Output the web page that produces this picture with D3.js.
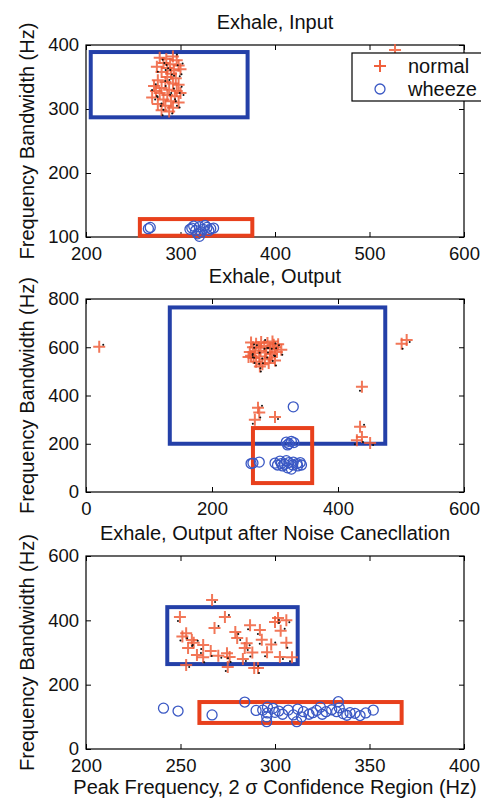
<!DOCTYPE html>
<html>
<head>
<meta charset="utf-8">
<script src="https://cdn.jsdelivr.net/npm/d3@7"></script>
<style>
  body { margin: 0; background: #fff; }
  svg { display: block; font-family: "Liberation Sans", Arial, sans-serif; }
</style>
</head>
<body>
<svg width="481" height="803"></svg>
<script>
// ---- data ----
var titles = ["Exhale, Input", "Exhale, Output", "Exhale, Output after Noise Canecllation"];
var xDomains = [[200, 600], [0, 600], [200, 400]];
var yDomains = [[100, 400], [0, 800], [0, 600]];
var xTicks = [[200, 300, 400, 500, 600], [0, 200, 400, 600], [200, 250, 300, 350, 400]];
var yTicks = [[100, 200, 300, 400], [0, 200, 400, 600, 800], [0, 200, 400, 600]];

// 2 sigma confidence boxes [x0, x1, y0, y1]
var normalBoxes = [[205, 371, 287, 389], [133, 475, 200, 765], [243, 312, 264, 441]];
var wheezeBoxes = [[257, 376, 102, 128], [265, 359, 37, 265], [260, 367, 81, 146]];

var normal1 = [[278,380],[285,378],[292,382],[296,376],[282,372],[289,370],[298,368],[275,366],[286,364],[293,360],
  [280,358],[300,362],[290,355],[276,345],[284,342],[292,340],[298,338],[272,336],[280,333],[288,330],
  [296,328],[278,325],[286,322],[294,320],[270,318],[282,315],[290,312],[298,310],[276,308],[284,305],
  [292,302],[280,298],[288,296],[286,350],[295,348],[274,328],[300,325],[527,392]];
var wheeze1 = [[268,115],[266,113],[312,114],[316,110],[320,116],[324,112],[328,115],[332,113],[318,105],
  [326,118],[322,108],[335,114],[314,117],[330,110],[310,112],[320,101]];

var normal2 = [[262,620],[270,615],[278,622],[288,618],[296,624],[305,612],[265,600],[274,598],[283,605],[292,595],
  [300,600],[310,590],[260,580],[268,575],[277,585],[286,578],[295,572],[303,580],[258,560],[266,555],
  [275,562],[284,550],[292,558],[300,545],[270,540],[280,530],[290,535],[276,520],[262,565],[298,610],
  [21,602],[501,615],[509,630],[438,436],[273,349],[275,330],[300,311],[268,299],[435,270],[438,228],
  [451,203],[430,215]];
var wheeze2 = [[329,353],[318,207],[322,200],[326,210],[330,205],[320,195],[265,120],[275,124],[262,118],[300,120],
  [308,128],[315,115],[322,122],[329,124],[335,118],[340,122],[312,108],[320,100],[328,112],[336,108],
  [304,112],[318,130],[326,95],[342,112],[310,118]];

var normal3 = [[266.7,463],[249.7,410],[273.5,410],[301.6,407],[306,400],[286.8,385],[268,376],[253,360],[279,364],
  [292,370],[303,368],[256,339],[285,329],[262,323],[254,314],[274.6,298],[284,314],[295.8,301],[258.7,292],
  [276,286],[302.6,286],[275,255],[289,252],[291,252],[253,261],[251,350],[257,330],[266,305],[280,345],
  [293,340],[298,325],[306,330],[270,290],[288,300],[300,395],[262,285],[283,280],[309,285]];
var wheeze3 = [[241,127],[248.7,118],[266.7,106],[284,146],[293.5,121],[299,126.5],[307,121],[315,116],[320,113],
  [327,116],[333.5,147],[332.6,116],[339.7,113],[342.3,111],[352,121],[309.7,106],[295.6,100],[311.5,85],
  [295.6,85],[290,120],[296,112],[302,118],[304,108],[312,124],[318,108],[322,120],[325,108],[330,122],
  [336,110],[345,104],[348,112],[296,130],[300,114],[314,100],[324,130],[334,128],[338,105]];

var normals = [normal1, normal2, normal3];
var wheezes = [wheeze1, wheeze2, wheeze3];

var yLabel = "Frequency Bandwidth (Hz)";
var xLabel = "Peak Frequency, 2 \u03c3 Confidence Region (Hz)";
var legendLabels = ["normal", "wheeze"];

// ---- layout ----
var svg = d3.select("svg");
var left = 86, right = 464;
var panelTops = [45, 299, 556], panelBottoms = [237, 492, 749];

var blueBox = "#2440a8", redBox = "#e8401c", plusColor = "#f0603c", circColor = "#3a58c4";
var plusPath = "M-6,0H6M0,-6V6";
var dotOffsets = [[3, 2], [-2, 4], [4, -2], [1, 5]];

function drawPanel(i) {
  var x = d3.scaleLinear().domain(xDomains[i]).range([left, right]);
  var y = d3.scaleLinear().domain(yDomains[i]).range([panelBottoms[i], panelTops[i]]);
  var g = svg.append("g");

  // frame
  g.append("rect")
    .attr("x", left).attr("y", panelTops[i])
    .attr("width", right - left).attr("height", panelBottoms[i] - panelTops[i])
    .attr("fill", "none").attr("stroke", "#000").attr("stroke-width", 1.2);

  // axes, ticks inside like matlab
  var ax = g.append("g").attr("transform", "translate(0," + panelBottoms[i] + ")")
    .call(d3.axisBottom(x).tickValues(xTicks[i]).tickSize(-5).tickPadding(10).tickFormat(d3.format("d")));
  var ay = g.append("g").attr("transform", "translate(" + left + ",0)")
    .call(d3.axisLeft(y).tickValues(yTicks[i]).tickSize(-5).tickPadding(7).tickFormat(d3.format("d")));
  g.append("g").attr("transform", "translate(0," + panelTops[i] + ")")
    .call(d3.axisTop(x).tickValues(xTicks[i]).tickSize(-5).tickFormat(""));
  g.append("g").attr("transform", "translate(" + right + ",0)")
    .call(d3.axisRight(y).tickValues(yTicks[i]).tickSize(-5).tickFormat(""));
  g.selectAll(".domain").remove();
  g.selectAll(".tick line").attr("stroke", "#000");
  g.selectAll(".tick text").attr("font-size", 18.5).attr("fill", "#111").attr("font-family", null);

  // confidence boxes
  var nb = normalBoxes[i], wb = wheezeBoxes[i];
  g.append("rect")
    .attr("x", x(nb[0])).attr("y", y(nb[3]))
    .attr("width", x(nb[1]) - x(nb[0])).attr("height", y(nb[2]) - y(nb[3]))
    .attr("fill", "none").attr("stroke", blueBox).attr("stroke-width", 4);

  // normal points (+ with a black dot)
  g.append("g").selectAll("path")
    .data(normals[i])
    .join("path")
      .attr("d", plusPath)
      .attr("transform", d => "translate(" + x(d[0]) + "," + y(d[1]) + ")")
      .attr("stroke", plusColor).attr("stroke-width", 2).attr("opacity", 0.85);
  g.append("g").selectAll("circle")
    .data(normals[i])
    .join("circle")
      .attr("cx", (d, k) => x(d[0]) + dotOffsets[k % 4][0])
      .attr("cy", (d, k) => y(d[1]) + dotOffsets[k % 4][1])
      .attr("r", 1)
      .attr("fill", "#111");

  g.append("rect")
    .attr("x", x(wb[0])).attr("y", y(wb[3]))
    .attr("width", x(wb[1]) - x(wb[0])).attr("height", y(wb[2]) - y(wb[3]))
    .attr("fill", "none").attr("stroke", redBox).attr("stroke-width", 4);

  // wheeze points
  g.append("g").selectAll("circle")
    .data(wheezes[i])
    .join("circle")
      .attr("cx", d => x(d[0]))
      .attr("cy", d => y(d[1]))
      .attr("r", 5)
      .attr("fill", "none")
      .attr("stroke", circColor).attr("stroke-width", 1.3);

  // title
  svg.append("text")
    .attr("x", 275).attr("y", panelTops[i] - 16)
    .attr("text-anchor", "middle").attr("font-size", 20).attr("fill", "#111")
    .text(titles[i]);

  // y label
  var cy = (panelTops[i] + panelBottoms[i]) / 2;
  svg.append("text")
    .attr("transform", "translate(34," + cy + ") rotate(-90)")
    .attr("text-anchor", "middle").attr("font-size", 20).attr("fill", "#111")
    .text(yLabel);
}

[0, 1, 2].forEach(drawPanel);

// x label under last panel
svg.append("text")
  .attr("x", 275).attr("y", 794)
  .attr("text-anchor", "middle").attr("font-size", 20).attr("fill", "#111")
  .text(xLabel);

// legend (first panel, runs past the right edge)
var legend = svg.append("g");
legend.append("rect")
  .attr("x", 352).attr("y", 53).attr("width", 140).attr("height", 48)
  .attr("fill", "#fff").attr("stroke", "#000").attr("stroke-width", 1.2);
legend.append("path").attr("d", plusPath)
  .attr("transform", "translate(380,66)")
  .attr("stroke", plusColor).attr("stroke-width", 2);
legend.append("circle").attr("cx", 380).attr("cy", 89).attr("r", 5)
  .attr("fill", "none").attr("stroke", circColor).attr("stroke-width", 1.3);
legend.selectAll("text")
  .data(legendLabels)
  .join("text")
    .attr("x", 408).attr("y", (d, k) => 73 + k * 23)
    .attr("font-size", 20).attr("fill", "#111")
    .text(d => d);
</script>
</body>
</html>
